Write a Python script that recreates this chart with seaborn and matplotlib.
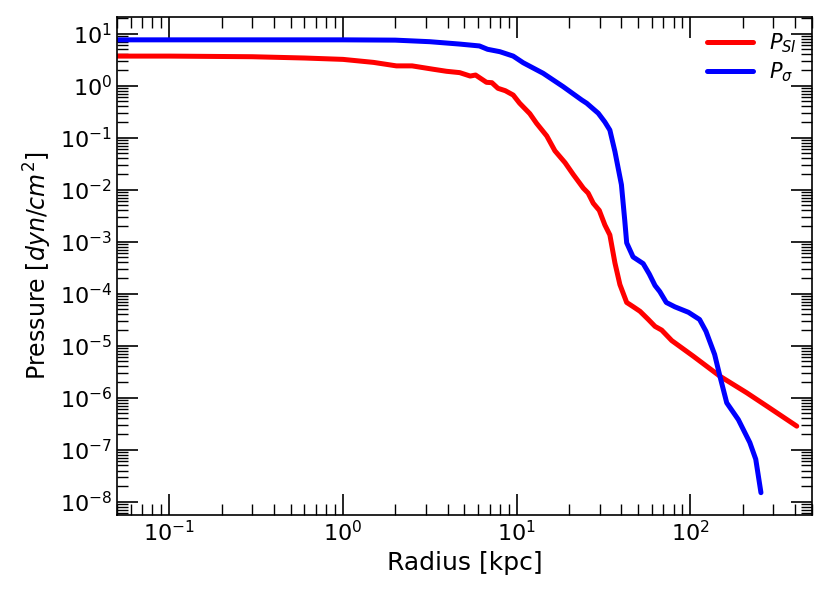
import numpy as np
import pandas as pd
import seaborn as sns
import matplotlib
matplotlib.use("Agg")
import matplotlib.pyplot as plt

# radius [kpc] and pressure [dyn/cm^2]
r_si = [0.05, 0.1, 0.3, 0.6, 1.0, 1.5, 2.03, 2.5, 3.3, 3.94, 4.7, 5.4, 5.8, 6.7, 7.2, 7.8,
        8.6, 9.55, 10.4, 11.9, 13.0, 14.9, 16.6, 19.0, 21.2, 23.0, 24.2, 25.8, 27.6, 29.9,
        32.2, 34.4, 36.8, 39.3, 43.0, 47.0, 51.3, 57.3, 62.6, 68.4, 78.1, 104, 148, 211,
        276, 410]
p_si = [3.7, 3.7, 3.6, 3.4, 3.2, 2.8, 2.4, 2.4, 2.07, 1.89, 1.78, 1.53, 1.6, 1.16, 1.14, 0.89,
        0.8, 0.66, 0.46, 0.29, 0.19, 0.108, 0.056, 0.033, 0.0195, 0.0135, 0.0107, 0.0086, 0.0055, 0.0040,
        0.0021, 0.00135, 3.9e-4, 1.5e-4, 6.8e-5, 5.6e-5, 4.6e-5, 3.2e-5, 2.36e-5, 2.0e-5, 1.26e-5, 6.3e-6, 2.6e-6, 1.25e-6,
        6.9e-7, 2.85e-7]

r_sig = [0.05, 0.1, 0.3, 1.0, 2.0, 3.16, 4.7, 6.1, 6.8, 8.0, 9.55, 10.9, 14.2, 18.5, 23.7,
         25.3, 29.5, 32.2, 34.4, 36.8, 40.1, 41.9, 43.0, 46.8, 53.5, 58.0, 62.6, 66.7, 72.7,
         81.5, 97.5, 113, 123, 138, 148, 162, 189, 220, 238, 255]
p_sig = [7.6, 7.6, 7.6, 7.6, 7.5, 7.0, 6.3, 5.8, 5.0, 4.5, 3.7, 2.76, 1.73, 0.96, 0.53,
         0.46, 0.295, 0.2, 0.14, 0.054, 0.0125, 0.0026, 9.5e-4, 5.1e-4, 3.8e-4, 2.4e-4, 1.44e-4, 1.1e-4, 6.8e-5,
         5.6e-5, 4.4e-5, 3.2e-5, 1.9e-5, 6.8e-6, 2.6e-6, 8e-7, 3.8e-7, 1.38e-7, 6.6e-8, 1.5e-8]

df = pd.concat([
    pd.DataFrame({"r": r_si, "P": p_si, "kind": r"$P_{SI}$"}),
    pd.DataFrame({"r": r_sig, "P": p_sig, "kind": r"$P_{\sigma}$"}),
])

sns.set_style("white")
plt.rcParams['font.family'] = ['DejaVu Sans']
plt.rcParams['text.color'] = 'black'
plt.rcParams['axes.labelcolor'] = 'black'
plt.rcParams['xtick.color'] = 'black'
plt.rcParams['ytick.color'] = 'black'

fig, ax = plt.subplots(figsize=(8.3, 5.93), dpi=100)
sns.lineplot(data=df, x="r", y="P", hue="kind", palette=["red", "blue"],
             linewidth=3.6, sort=False, estimator=None, ax=ax)
ax.set_xscale("log")
ax.set_yscale("log")
ax.set_xlim(0.05, 500)
ax.set_xlabel("Radius [kpc]", fontsize=18)
ax.set_ylabel(r"Pressure [$dyn/cm^2$]", fontsize=17)

ax.yaxis.set_major_locator(matplotlib.ticker.LogLocator(base=10, numticks=20))
ax.yaxis.set_minor_locator(matplotlib.ticker.LogLocator(base=10, subs=np.arange(2, 10), numticks=20))
ax.tick_params(which="both", direction="in", top=True, right=True, bottom=True, left=True,
               labelsize=16)
ax.tick_params(which="major", length=15, width=1.2)
ax.tick_params(which="minor", length=8, width=1)
for s in ax.spines.values():
    s.set_color("black")
    s.set_linewidth(1.2)

leg = ax.legend(loc="upper right", frameon=False, fontsize=15, handlelength=2.2,
                labelspacing=0.25, borderaxespad=0.3)
fig.subplots_adjust(left=0.141, right=0.978, top=0.971, bottom=0.131)
fig.savefig("out.png", dpi=100)
